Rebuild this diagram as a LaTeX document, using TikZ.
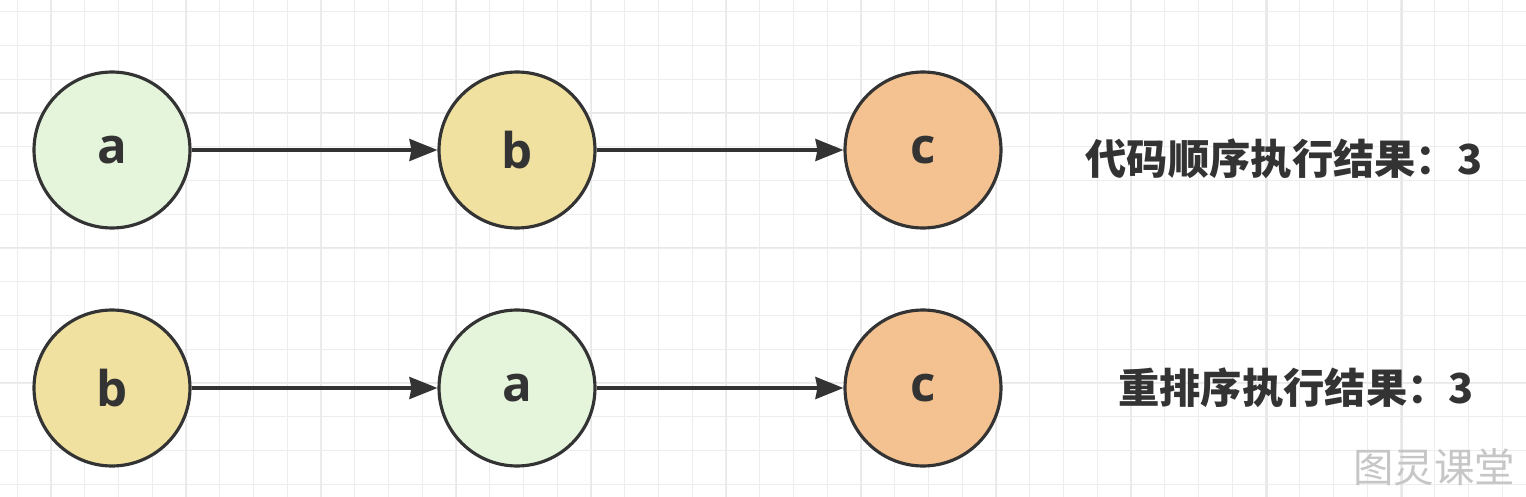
\documentclass[tikz,border=0pt]{standalone}
\usepackage{fontspec}
\usetikzlibrary{arrows.meta}
\newfontfamily\cjk{Noto Sans CJK SC}
\newfontfamily\lat{Open Sans}
\definecolor{ink}{HTML}{333333}
\definecolor{afill}{HTML}{E5F5DC}
\definecolor{bfill}{HTML}{F0E1A0}
\definecolor{cfill}{HTML}{F4C290}
\definecolor{gridc}{HTML}{EDEDED}
\definecolor{gridm}{HTML}{E8E8E8}
\begin{document}
\begin{tikzpicture}[x=0.02cm,y=-0.02cm,
  vtx/.style={circle, draw=ink, line width=1.8pt, minimum size=3.12cm, inner sep=0pt, text=ink, font=\lat\bfseries\fontsize{28}{30}\selectfont},
  edge/.style={draw=ink, line width=1.8pt, -{Stealth[length=0.56cm, width=0.44cm, inset=0.04cm]}},
  res/.style={text=ink, font=\cjk\bfseries\fontsize{23.5}{26}\selectfont, inner sep=0pt},
  gridline/.style={draw=gridc, line width=0.7pt},
  gridmajor/.style={draw=gridm, line width=0.9pt}]
\useasboundingbox (0,0) rectangle (1526,497);
\fill[white] (0,0) rectangle (1526,497);
\foreach \i in {0,...,45} \draw[gridline] ({17.3+33.75*\i},0) -- ({17.3+33.75*\i},497);
\foreach \i in {0,...,14} \draw[gridline] (0,{11.7+33.75*\i}) -- (1526,{11.7+33.75*\i});
\foreach \i in {0,...,10} \draw[gridmajor] ({51.7+135*\i},0) -- ({51.7+135*\i},497);
\foreach \i in {1,2,3} \draw[gridmajor] (0,{-22.3+135*\i}) -- (1526,{-22.3+135*\i});

\node[vtx, fill=afill] (na1) at (112,150){a};
\node[vtx, fill=bfill] (nb1) at (517,150){b};
\node[vtx, fill=cfill] (nc1) at (923,150){c};
\draw[edge](na1) -- (nb1);
\draw[edge](nb1) -- (nc1);
\node[res] (res1) at (1284,159){代码顺序执行结果：3};

\node[vtx, fill=bfill] (nb2) at (112,388){b};
\node[vtx, fill=afill] (na2) at (517,388){a};
\node[vtx, fill=cfill] (nc2) at (923,388){c};
\draw[edge](nb2) -- (na2);
\draw[edge](na2) -- (nc2);
\node[res] (res2) at (1296,388){重排序执行结果：3};

\node[text=gray!45, font=\cjk\fontsize{23}{25}\selectfont, inner sep=0pt] (wm) at (1434,467){图灵课堂};
\end{tikzpicture}
\end{document}
